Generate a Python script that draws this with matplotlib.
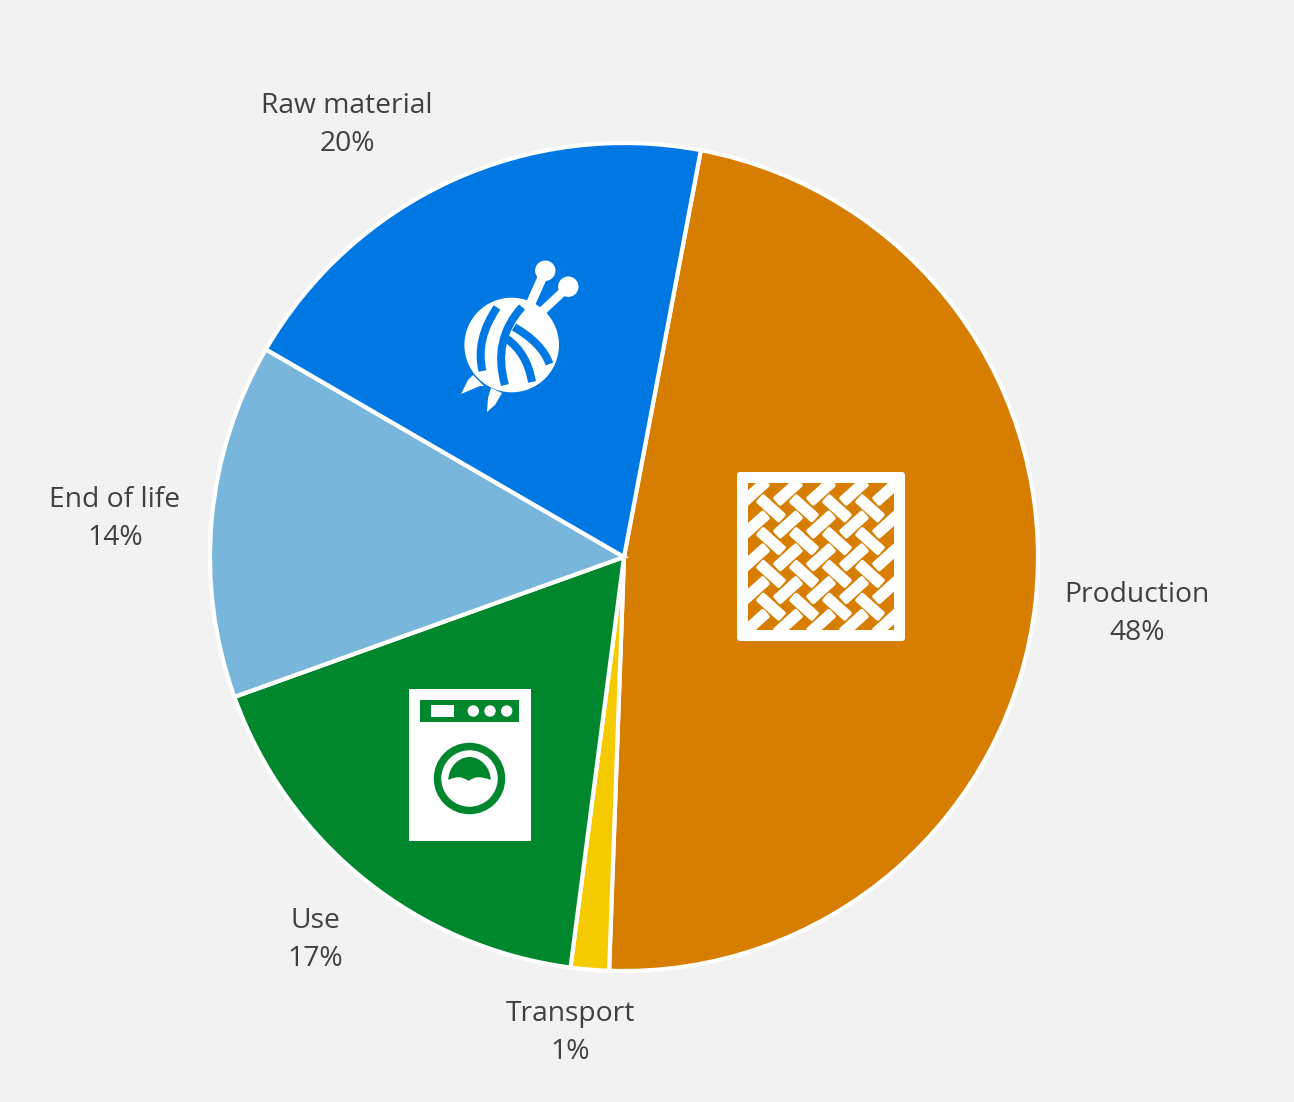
import matplotlib
matplotlib.use("Agg")
import matplotlib.pyplot as plt
from matplotlib.patches import Circle, FancyBboxPatch, PathPatch, Polygon, Rectangle
from matplotlib.path import Path
from matplotlib.transforms import Affine2D

categories = ["Production", "Transport", "Use", "End of life", "Raw material"]
shares = [47.6, 1.49, 17.45, 13.85, 19.61]
colors = ["#D77E00", "#F5CB00", "#00872E", "#79B6DC", "#0078E3"]
label_centres = [(1137, 614), (570, 1033), (315, 940), (115, 519), (347, 125)]

WIDTH, HEIGHT = 1294, 1102
BG = "#F2F2F2"
TEXT = "#404040"
WHITE = "#FFFFFF"
CX, CY, RADIUS = 624, 557, 414


def fy(y):
    """Convert a top-down canvas row into the axes' upward y."""
    return HEIGHT - y


def pts(seq):
    return [(x, fy(y)) for x, y in seq]


fig = plt.figure(figsize=(WIDTH / 100, HEIGHT / 100), dpi=100, facecolor=BG)
ax = fig.add_axes([0, 0, 1, 1], facecolor=BG)

ax.pie(
    shares,
    colors=colors,
    startangle=90 - 10.7,
    counterclock=False,
    center=(CX, fy(CY)),
    radius=RADIUS,
    frame=True,
    wedgeprops={"edgecolor": WHITE, "linewidth": 3.0},
)
ax.set_xlim(0, WIDTH)
ax.set_ylim(0, HEIGHT)
ax.set_aspect("equal")
ax.axis("off")

for name, share, (lx, ly) in zip(categories, shares, label_centres):
    ax.text(lx, fy(ly), f"{name}\n{share:.0f}%", ha="center", va="center",
            fontsize=20.3, color=TEXT, family="Open Sans", linespacing=1.47)


def add_weave_icon():
    orange = colors[0]
    ax.add_patch(FancyBboxPatch((740, fy(638)), 162, 163, boxstyle="round,pad=3,rounding_size=3",
                                fc=WHITE, ec="none", zorder=3))
    hole = Rectangle((747.5, fy(630)), 146.5, 147, fc=orange, ec="none", zorder=4)
    ax.add_patch(hole)

    def tile(cx, cy, angle):
        length, thick = 31.5, 11.5
        t = FancyBboxPatch((cx - length / 2 + 2, fy(cy) - thick / 2 + 2), length - 4, thick - 4,
                           boxstyle="round,pad=2,rounding_size=2", fc=WHITE, ec="none", zorder=5,
                           transform=Affine2D().rotate_deg_around(cx, fy(cy), angle) + ax.transData)
        ax.add_patch(t)
        t.set_clip_path(hole)

    # Tiles running down to the right
    for row in range(4):
        for col in range(4):
            tile(771 + 33 * col, 508.3 + 32.8 * row, -42)
    # Tiles running up to the right; the outer ones disappear under the frame
    for row in range(5):
        for col in range(5):
            tile(755 + 33 * col, 491.7 + 32.8 * row, 42)


def add_washer_icon():
    green = colors[2]
    ax.add_patch(Rectangle((409, fy(841)), 122, 152, fc=WHITE, ec="none", zorder=3))
    ax.add_patch(Rectangle((420, fy(722)), 99, 22, fc=green, ec="none", zorder=4))
    ax.add_patch(Rectangle((431, fy(717)), 23, 12, fc=WHITE, ec="none", zorder=5))
    for x in (473.3, 490, 506.7):
        ax.add_patch(Circle((x, fy(711)), 5.7, fc=WHITE, ec="none", zorder=5))
    ax.add_patch(Circle((469.5, fy(778.5)), 32, fc="none", ec=green, lw=5.4, zorder=4))
    dome = Path(
        pts([(448.3, 780), (448.3, 768), (458, 757), (469.5, 757), (481, 757), (490.7, 768), (490.7, 780),
             (484, 777), (478, 777.3), (473, 777.3), (468.5, 781), (464, 777.3), (459, 777.3),
             (454, 777), (448.3, 780), (448.3, 780)]),
        [Path.MOVETO, Path.CURVE4, Path.CURVE4, Path.CURVE4, Path.CURVE4, Path.CURVE4, Path.CURVE4,
         Path.CURVE3, Path.CURVE3, Path.CURVE3, Path.CURVE3, Path.CURVE3, Path.CURVE3,
         Path.CURVE3, Path.CURVE3, Path.CLOSEPOLY],
    )
    ax.add_patch(PathPatch(dome, fc=green, ec="none", zorder=5))


def add_yarn_icon():
    blue = colors[4]
    ax.add_patch(Circle((511.7, fy(345)), 47.3, fc=WHITE, ec="none", zorder=3))
    ax.plot([545.3, 530], [fy(270.7), fy(305)], color=WHITE, lw=6.8, solid_capstyle="butt", zorder=3)
    ax.plot([568.3, 538], [fy(286.7), fy(315)], color=WHITE, lw=6.2, solid_capstyle="butt", zorder=3)
    ax.add_patch(Circle((545.3, fy(270.7)), 10.2, fc=WHITE, ec="none", zorder=4))
    ax.add_patch(Circle((568.3, fy(286.7)), 10.2, fc=WHITE, ec="none", zorder=4))
    ax.add_patch(Polygon(pts([(473, 375), (484, 386), (480, 386), (461, 394), (468, 380)]),
                         fc=WHITE, ec="none", zorder=3))
    ax.add_patch(Polygon(pts([(491, 388), (502, 393), (495, 405), (487, 412), (488, 398)]),
                         fc=WHITE, ec="none", zorder=3))
    # Strands wound around the ball
    strands = [
        ((497, 307.5), (475, 340), (482.5, 371), 8),
        ((522, 307), (492, 340), (505, 385), 8),
        ((514, 327), (542, 343), (549.5, 364), 8),
        ((507, 339), (527, 353), (532, 382), 8),
    ]
    for a, b, c, w in strands:
        path = Path(pts([a, b, c]), [Path.MOVETO, Path.CURVE3, Path.CURVE3])
        ax.add_patch(PathPatch(path, fc="none", ec=blue, lw=w * 0.72, capstyle="butt", zorder=5))


add_weave_icon()
add_washer_icon()
add_yarn_icon()

fig.savefig("out.png", dpi=100, facecolor=BG)
